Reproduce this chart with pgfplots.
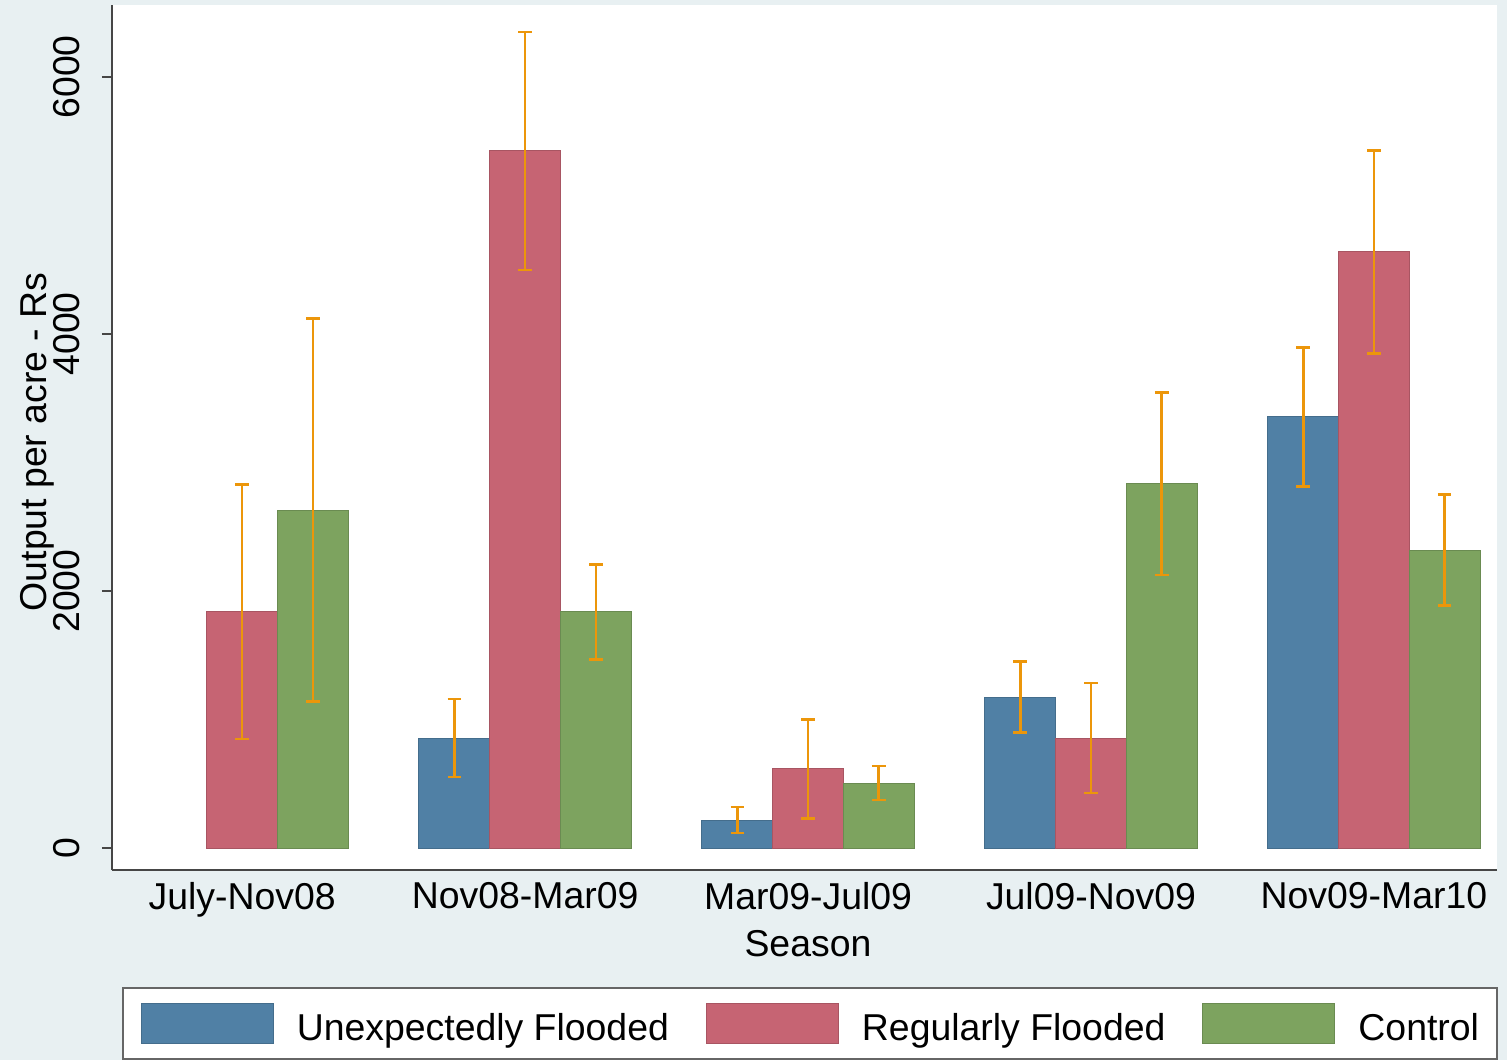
\documentclass[border=0pt]{standalone}
\usepackage{pgfplots}
\pgfplotsset{compat=1.18}
\usepackage{fontspec}
\setmainfont{Liberation Sans}
\definecolor{bgc}{RGB}{232,240,242}
\definecolor{cblue}{RGB}{80,128,165}
\definecolor{cred}{RGB}{198,100,115}
\definecolor{cgreen}{RGB}{125,163,95}
\definecolor{cerr}{RGB}{236,150,10}
\definecolor{axc}{RGB}{70,70,70}
\begin{document}
\begin{tikzpicture}
\fill[bgc] (-56pt,-95pt) rectangle (697.5pt,435pt);
\begin{axis}[
  scale only axis,
  width=692.5pt, height=432.5pt,
  xmin=-0.46, xmax=4.435,
  ymin=-171, ymax=6560,
  axis background/.style={fill=white},
  axis x line*=bottom, axis y line*=left,
  axis line style={axc, line width=1pt, -},
  font=\fontsize{18.7}{22}\selectfont,
  xtick={0,1,2,3,4},
  xticklabels={July-Nov08,Nov08-Mar09,Mar09-Jul09,Jul09-Nov09,Nov09-Mar10},
  x tick style={draw=none},
  xticklabel style={inner sep=0pt},
  xticklabel shift=1pt,
  ytick={0,2000,4000,6000},
  y tick style={axc, line width=1pt},
  tick align=outside,
  major tick length=5pt,
  /pgf/number format/assume math mode=true,
  /pgf/number format/1000 sep={},
  yticklabel style={rotate=90, anchor=south, inner sep=0pt},
  yticklabel shift=11pt,
  xlabel={Season},
  xlabel style={at={(axis description cs:0.5025,0)}, anchor=north, inner sep=0pt, yshift=-30pt},
  ylabel={Output per acre - Rs},
  ylabel style={at={(axis description cs:-0.0412,0.495)}, anchor=south, inner sep=0pt},
  ybar, bar width=0.25,
  legend columns=3,
  legend style={at={(axis description cs:0,0)}, anchor=north west, xshift=5pt, yshift=-58.5pt,
    draw=black!60, line width=0.8pt, fill=white, inner xsep=9pt, inner ysep=7.5pt,
    column sep=11.5pt, nodes={inner sep=0pt},
    /tikz/every even column/.append style={column sep=18.5pt}},
  legend cell align=left,
  legend image code/.code={\fill[#1] (0pt,-7.5pt) rectangle (66pt,12.5pt);},
  error bars/y dir=both, error bars/y explicit,
  error bars/error bar style={cerr, line width=1.3pt},
  error bars/error mark options={cerr, rotate=90, mark size=3.4pt, line width=1.3pt},
]
\addplot+[bar shift=-0.25, fill=cblue, draw=cblue!85!black, line width=0.5pt]
  coordinates {(1,856) +- (0,303) (2,218) +- (0,100) (3,1175) +- (0,277) (4,3354) +- (0,540)};
\addlegendentry{Unexpectedly Flooded}
\addplot+[bar shift=0, fill=cred, draw=cred!85!black, line width=0.5pt]
  coordinates {(0,1837) +- (0,990) (1,5424) +- (0,925) (2,615) +- (0,385) (3,856) +- (0,428) (4,4638) +- (0,790)};
\addlegendentry{Regularly Flooded}
\addplot+[bar shift=0.25, fill=cgreen, draw=cgreen!85!black, line width=0.5pt]
  coordinates {(0,2630) +- (0,1490) (1,1837) +- (0,370) (2,506) +- (0,133) (3,2833) +- (0,710) (4,2319) +- (0,430)};
\addlegendentry{Control}
\end{axis}
\pgfresetboundingbox
\path (-56pt,-95pt) rectangle (697.5pt,435pt);
\end{tikzpicture}
\end{document}
